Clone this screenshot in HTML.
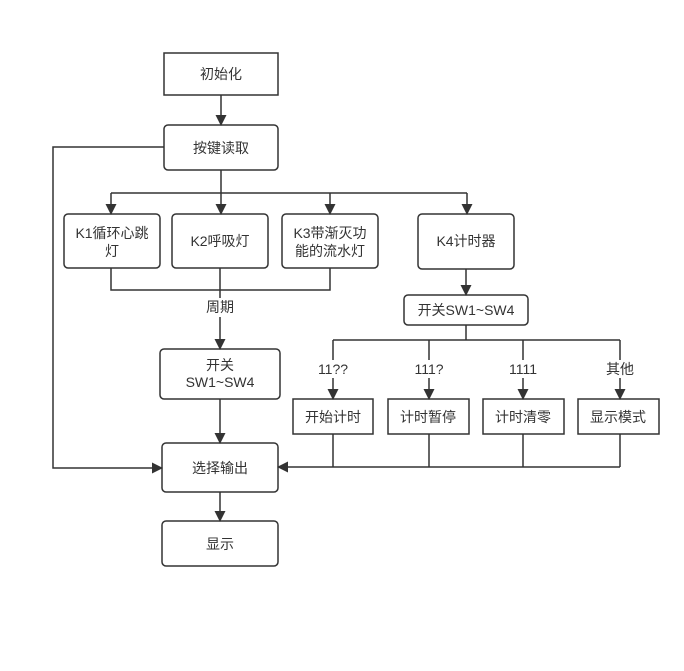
<!DOCTYPE html>
<html><head><meta charset="utf-8"><style>
body{margin:0;background:#fff}
svg text{font-family:"Liberation Sans","Noto Sans CJK SC",sans-serif;font-size:14px;fill:#333;text-anchor:middle;dominant-baseline:central}
</style></head><body>
<svg width="684" height="666" viewBox="0 0 684 666" xmlns="http://www.w3.org/2000/svg">
<defs><marker id="a" markerWidth="11" markerHeight="11" refX="10" refY="5.5" orient="auto" markerUnits="userSpaceOnUse"><path d="M0,0 L11,5.5 L0,11 z" fill="#333"/></marker></defs>
<g fill="none" stroke="#333" stroke-width="1.5">
<rect x="164" y="53" width="114" height="42"/>
<rect x="164" y="125" width="114" height="45" rx="4"/>
<rect x="64" y="214" width="96" height="54" rx="4"/>
<rect x="172" y="214" width="96" height="54" rx="4"/>
<rect x="282" y="214" width="96" height="54" rx="4"/>
<rect x="418" y="214" width="96" height="55" rx="4"/>
<rect x="404" y="295" width="124" height="30" rx="4"/>
<rect x="160" y="349" width="120" height="50" rx="4"/>
<rect x="293" y="399" width="80" height="35"/>
<rect x="388" y="399" width="81" height="35"/>
<rect x="483" y="399" width="81" height="35"/>
<rect x="578" y="399" width="81" height="35"/>
<rect x="162" y="443" width="116" height="49" rx="4"/>
<rect x="162" y="521" width="116" height="45" rx="4"/>
<line x1="221" y1="95" x2="221" y2="125" marker-end="url(#a)"/>
<line x1="221" y1="170" x2="221" y2="193"/>
<line x1="111" y1="193" x2="467" y2="193"/>
<line x1="111" y1="193" x2="111" y2="214" marker-end="url(#a)"/>
<line x1="221" y1="193" x2="221" y2="214" marker-end="url(#a)"/>
<line x1="330" y1="193" x2="330" y2="214" marker-end="url(#a)"/>
<line x1="467" y1="193" x2="467" y2="214" marker-end="url(#a)"/>
<polyline points="111,268 111,290 330,290 330,268"/>
<line x1="220" y1="268" x2="220" y2="298"/>
<line x1="220" y1="317" x2="220" y2="349" marker-end="url(#a)"/>
<line x1="466" y1="269" x2="466" y2="295" marker-end="url(#a)"/>
<line x1="466" y1="325" x2="466" y2="340"/>
<line x1="333" y1="340" x2="620" y2="340"/>
<line x1="333" y1="340" x2="333" y2="360"/><line x1="333" y1="378" x2="333" y2="399" marker-end="url(#a)"/>
<line x1="429" y1="340" x2="429" y2="360"/><line x1="429" y1="378" x2="429" y2="399" marker-end="url(#a)"/>
<line x1="523" y1="340" x2="523" y2="360"/><line x1="523" y1="378" x2="523" y2="399" marker-end="url(#a)"/>
<line x1="620" y1="340" x2="620" y2="360"/><line x1="620" y1="378" x2="620" y2="399" marker-end="url(#a)"/>
<polyline points="333,434 333,467"/><polyline points="429,434 429,467"/><polyline points="523,434 523,467"/><polyline points="620,434 620,467"/>
<line x1="620" y1="467" x2="278" y2="467" marker-end="url(#a)"/>
<line x1="220" y1="399" x2="220" y2="443" marker-end="url(#a)"/>
<line x1="220" y1="492" x2="220" y2="521" marker-end="url(#a)"/>
<polyline points="164,147 53,147 53,468 162,468" marker-end="url(#a)"/>
</g>
<text x="221" y="74">初始化</text>
<text x="221" y="148">按键读取</text>
<text x="112" y="233">K1循环心跳</text><text x="112" y="251">灯</text>
<text x="220" y="241">K2呼吸灯</text>
<text x="330" y="233">K3带渐灭功</text><text x="330" y="251">能的流水灯</text>
<text x="466" y="241">K4计时器</text>
<text x="466" y="310">开关SW1~SW4</text>
<text x="220" y="307">周期</text>
<text x="220" y="365">开关</text><text x="220" y="382">SW1~SW4</text>
<text x="333" y="369">11??</text><text x="429" y="369">111?</text><text x="523" y="369">1111</text><text x="620" y="369">其他</text>
<text x="333" y="417">开始计时</text><text x="428" y="417">计时暂停</text><text x="523" y="417">计时清零</text><text x="618" y="417">显示模式</text>
<text x="220" y="468">选择输出</text>
<text x="220" y="544">显示</text>
</svg>
</body></html>
